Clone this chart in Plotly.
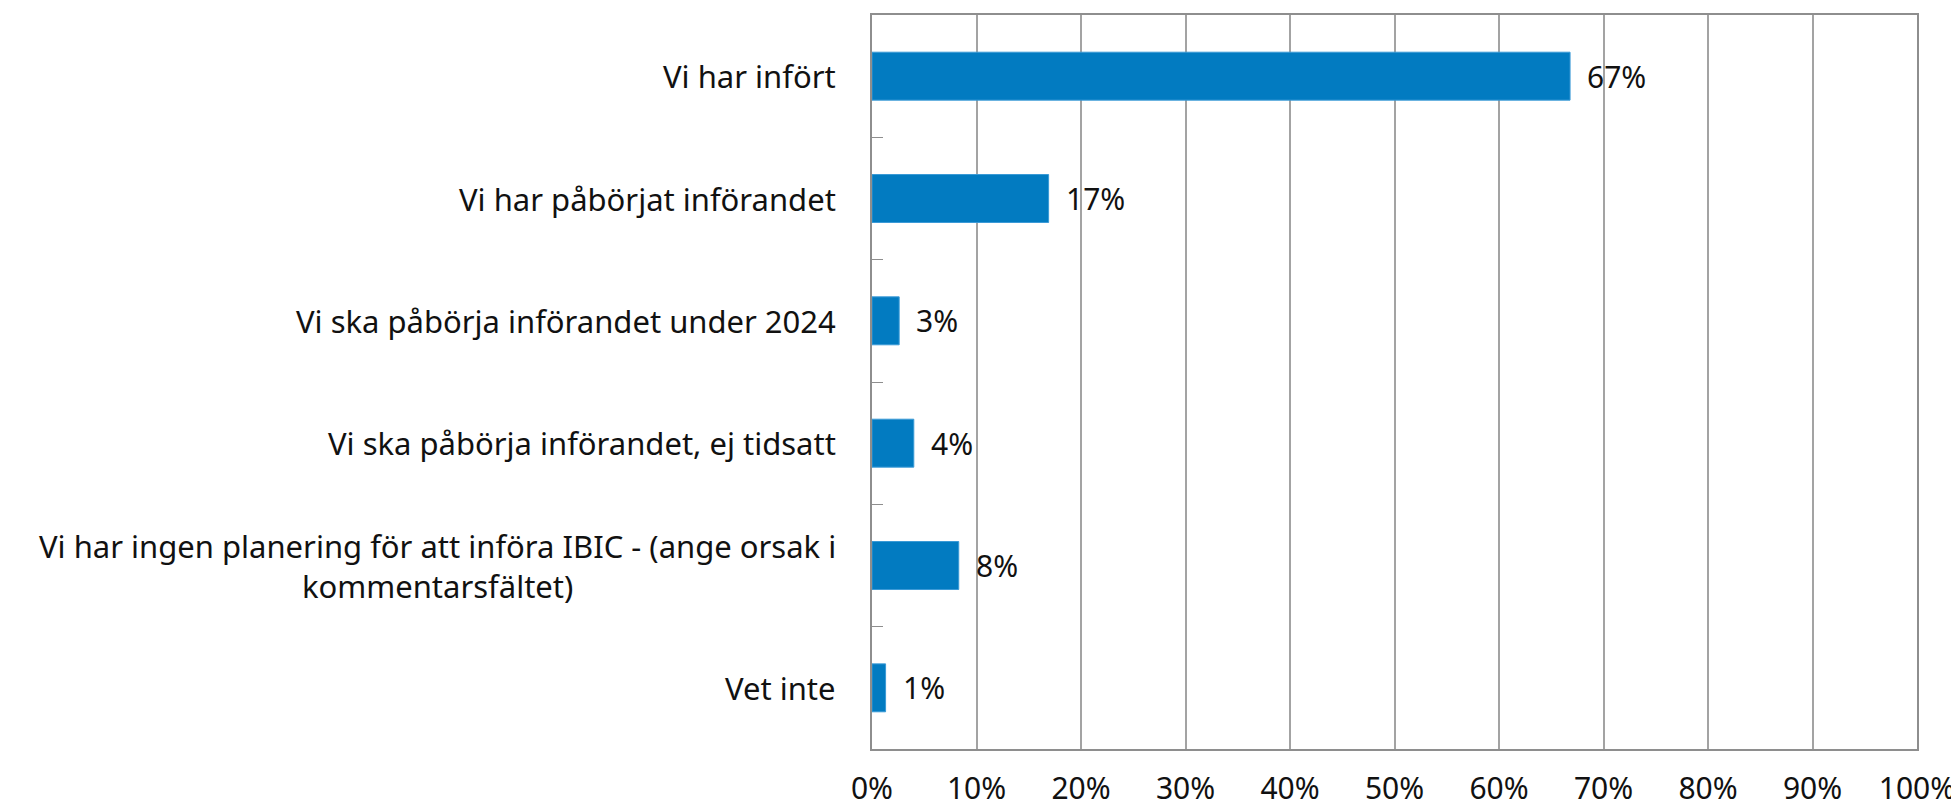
import plotly.graph_objects as go

categories = [
    "Vi har infört",
    "Vi har påbörjat införandet",
    "Vi ska påbörja införandet under 2024",
    "Vi ska påbörja införandet, ej tidsatt",
    "Vi har ingen planering för att införa IBIC - (ange orsak i<br>kommentarsfältet)",
    "Vet inte",
]
values = [0.668, 0.169, 0.026, 0.040, 0.083, 0.013]
labels = ["67%", "17%", "3%", "4%", "8%", "1%"]
x_ticks = [0, 0.1, 0.2, 0.3, 0.4, 0.5, 0.6, 0.7, 0.8, 0.9, 1.0]
x_tick_text = ["0%", "10%", "20%", "30%", "40%", "50%", "60%", "70%", "80%", "90%", "100%"]

FONT = "Noto Sans"
BAR = "#027BC1"
GRID = "#A3A3A3"

fig = go.Figure()
fig.add_trace(go.Bar(
    x=values, y=categories, orientation="h",
    marker=dict(color=BAR, line=dict(color="#3A9AD6", width=1)),
    hoverinfo="skip",
))

annotations = []
for c, v, t in zip(categories, values, labels):
    annotations.append(dict(
        x=v, y=c, xref="x", yref="y", text=t, showarrow=False,
        xanchor="left", yanchor="middle", xshift=15,
        font=dict(family=FONT, size=30, color="#111111"),
    ))
    annotations.append(dict(
        x=0, y=c, xref="paper", yref="y", text=c, showarrow=False,
        xanchor="right", yanchor="middle", xshift=-34, align="center",
        font=dict(family=FONT, size=31, color="#111111"),
    ))

fig.update_layout(
    width=1951, height=801,
    margin=dict(l=864, r=42, t=7, b=60),
    paper_bgcolor="white", plot_bgcolor="white",
    bargap=0.608,
    showlegend=False,
    annotations=annotations,
    font=dict(family=FONT, size=30, color="#111111"),
    xaxis=dict(
        range=[0, 1], tickvals=x_ticks, ticktext=x_tick_text,
        showgrid=True, gridcolor=GRID, gridwidth=1.5,
        showline=True, linecolor="#8E8E8E", linewidth=1.5, mirror=True,
        ticks="", ticklabelstandoff=12, zeroline=False, automargin=False,
        tickfont=dict(family=FONT, size=30, color="#111111"),
        fixedrange=True,
    ),
    yaxis=dict(
        categoryorder="array", categoryarray=categories,
        autorange="reversed",
        showticklabels=False, automargin=False,
        ticks="inside", tickson="boundaries", ticklen=11,
        tickcolor="#8E8E8E", tickwidth=1,
        showgrid=False, zeroline=False,
        showline=True, linecolor="#8E8E8E", linewidth=1.5, mirror=True,
        fixedrange=True,
    ),
)

fig.write_html("out.html")
